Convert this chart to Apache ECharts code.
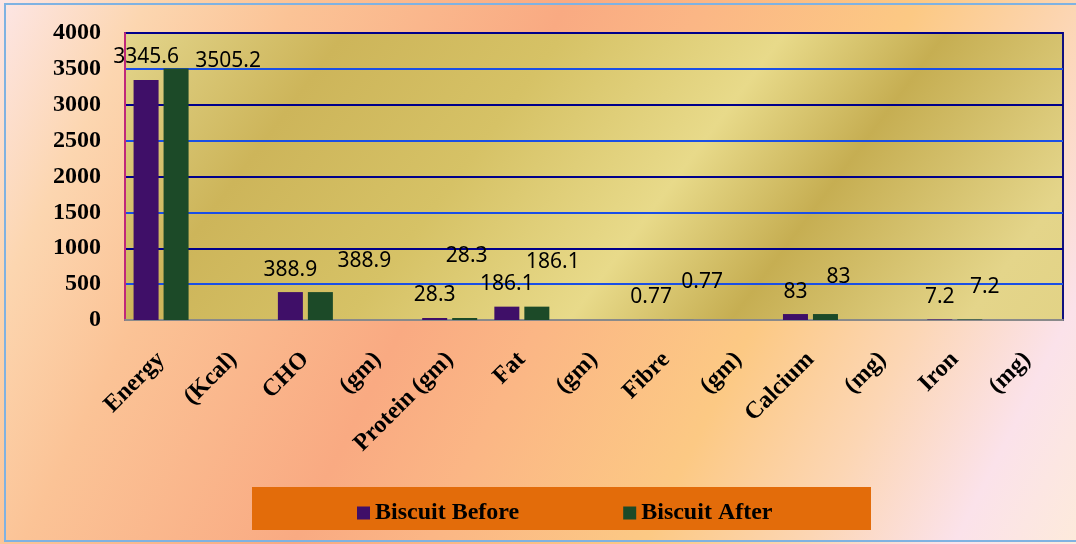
<!DOCTYPE html>
<html>
<head>
<meta charset="utf-8">
<script src="https://cdn.jsdelivr.net/npm/echarts@6/dist/echarts.min.js"></script>
<style>
html,body{margin:0;padding:0;}
#charts{width:1076px;height:544px;}
</style>
</head>
<body>
<div id="charts"></div>
<script>
//分类和数据
var categories = ['Energy', '(Kcal)', 'CHO', '(gm)', 'Protein (gm)', 'Fat', '(gm)', 'Fibre', '(gm)', 'Calcium', '(mg)', 'Iron', '(mg)'];
var biscuitBefore = [3345.6, null, 388.9, null, 28.3, 186.1, null, 0.77, null, 83, null, 7.2, null];
var biscuitAfter = [3505.2, null, 388.9, null, 28.3, 186.1, null, 0.77, null, 83, null, 7.2, null];
var yTicks = [0, 500, 1000, 1500, 2000, 2500, 3000, 3500, 4000];

//After 标签的偏移 (原图里手动拖动过)
var afterLabelShift = [[52, 15], null, [44, -9], null, [2, -39], [16, -22], null, [21, -15], null, [13, -15], null, [15, -10], null];

var serif = 'Liberation Serif';

function $each(arr, fn) {
	for (var i = 0; i < arr.length; i++) fn(i, arr[i]);
}

function afterData() {
	var list = [];
	$each(biscuitAfter, function(i, v) {
		if (v === null) {
			list.push(null);
			return;
		}
		var item = {value: v};
		if (afterLabelShift[i]) {
			item.label = {offset: afterLabelShift[i]};
		}
		list.push(item);
	});
	return list;
}

var myChart = echarts.init(document.getElementById('charts'));

var option = {
	animation: false,
	backgroundColor: new echarts.graphic.LinearGradient(0, 0, 1, 1, [
		{offset: 0, color: '#fde6e6'},
		{offset: 0.11, color: '#fcd6b0'},
		{offset: 0.22, color: '#fbc396'},
		{offset: 0.42, color: '#f9aa82'},
		{offset: 0.52, color: '#fbb685'},
		{offset: 0.68, color: '#fcc984'},
		{offset: 0.8, color: '#fcd6b4'},
		{offset: 0.91, color: '#fbe2ea'},
		{offset: 1, color: '#fdeadb'}
	]),
	graphic: [
		{
			type: 'rect',
			z: 0,
			shape: {x: 5, y: 4, width: 1090, height: 537},
			style: {fill: null, stroke: '#7fb2e2', lineWidth: 2}
		},
		{
			type: 'rect',
			z: 0,
			shape: {x: 252, y: 487, width: 619, height: 43},
			style: {fill: '#e36c0a'}
		}
	],
	grid: {
		left: 125,
		right: 13,
		top: 33,
		bottom: 224,
		show: true,
		borderColor: '#10107f',
		borderWidth: 2,
		backgroundColor: new echarts.graphic.LinearGradient(125, 33, 1063, 737, [
			{offset: 0, color: '#e3d58c'},
			{offset: 0.15, color: '#cdb55a'},
			{offset: 0.3, color: '#d6c266'},
			{offset: 0.45, color: '#e8da8a'},
			{offset: 0.56, color: '#c6ae52'},
			{offset: 0.72, color: '#e4d58a'},
			{offset: 1, color: '#dccb78'}
		], true)
	},
	legend: {
		left: 352,
		top: 496,
		itemGap: 104,
		itemWidth: 13,
		itemHeight: 13,
		icon: 'rect',
		textStyle: {fontFamily: serif, fontWeight: 'bold', fontSize: 24, color: '#000'},
		data: ['Biscuit Before', 'Biscuit After']
	},
	xAxis: {
		type: 'category',
		data: categories,
		axisLine: {lineStyle: {color: '#8a8a8a', width: 2}},
		axisTick: {show: false},
		axisLabel: {
			interval: 0,
			rotate: 45,
			margin: 36,
			fontFamily: serif,
			fontWeight: 'bold',
			fontSize: 24,
			color: '#000'
		}
	},
	yAxis: {
		type: 'value',
		min: yTicks[0],
		max: yTicks[yTicks.length - 1],
		interval: 500,
		axisLine: {show: true, lineStyle: {color: '#c0287a', width: 2}},
		axisTick: {show: false},
		axisLabel: {
			margin: 24,
			fontFamily: serif,
			fontWeight: 'bold',
			fontSize: 24,
			color: '#000',
			formatter: function(value) {
				return String(value);
			}
		},
		splitLine: {lineStyle: {color: ['#00008b', '#1a4fe6'], width: 2}}
	},
	series: [
		{
			name: 'Biscuit Before',
			type: 'bar',
			barWidth: 25,
			barGap: '20%',
			itemStyle: {color: '#3f0f68'},
			label: {show: true, position: 'top', distance: 12, fontFamily: 'Noto Sans', fontSize: 21, color: '#000'},
			data: biscuitBefore
		},
		{
			name: 'Biscuit After',
			type: 'bar',
			barWidth: 25,
			itemStyle: {color: '#1c4a28'},
			label: {show: true, position: 'top', distance: 12, fontFamily: 'Noto Sans', fontSize: 21, color: '#000'},
			data: afterData()
		}
	]
};
myChart.setOption(option);
</script>
</body>
</html>
